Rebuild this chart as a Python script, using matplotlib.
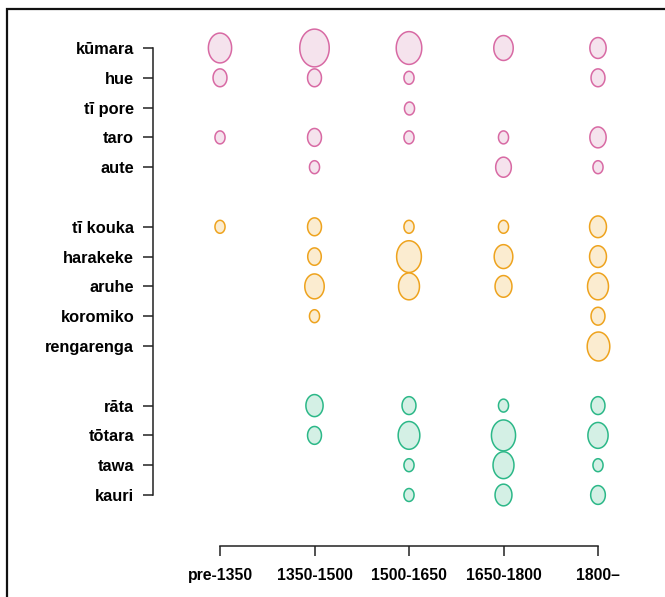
import numpy as np
import matplotlib
matplotlib.use("Agg")
import matplotlib.pyplot as plt
from matplotlib.path import Path
from matplotlib.patches import Rectangle

# ===== data =====
periods = ["pre-1350", "1350-1500", "1500-1650", "1650-1800", "1800–"]

food_plants = ["kūmara", "hue", "tī pore", "taro", "aute"]
food_vals = [
    [5.3, 8.5, 6.4, 3.7, 2.6],
    [1.9, 1.9, 1.0, 0, 1.9],
    [0, 0, 1.0, 0, 0],
    [1.0, 1.9, 1.0, 1.0, 2.6],
    [0, 1.0, 0, 2.4, 1.0],
]

fibre_plants = ["tī kouka", "harakeke", "aruhe", "koromiko", "rengarenga"]
fibre_vals = [
    [1.0, 1.9, 1.0, 1.0, 2.8],
    [0, 1.8, 6.0, 3.4, 2.8],
    [0, 3.7, 4.3, 2.8, 4.3],
    [0, 1.0, 0, 0, 1.9],
    [0, 0, 0, 0, 5.0],
]

tree_plants = ["rāta", "tōtara", "tawa", "kauri"]
tree_vals = [
    [0, 2.9, 1.9, 1.0, 1.9],
    [0, 1.9, 4.6, 5.7, 4.0],
    [0, 0, 1.0, 4.3, 1.0],
    [0, 0, 1.0, 2.8, 2.1],
]

groups = [
    (food_plants, food_vals, "#d86aa4", "#f5e3ed"),
    (fibre_plants, fibre_vals, "#eea31e", "#fbecd0"),
    (tree_plants, tree_vals, "#2cb888", "#d4f0e5"),
]

plt.rcParams["font.family"] = ["Liberation Sans", "DejaVu Sans"]
plt.rcParams["font.weight"] = "bold"

# slightly tall ellipse marker
t = np.linspace(0, 2 * np.pi, 80)
oval = Path(np.column_stack([0.78 * np.cos(t), np.sin(t)]), closed=True)

fig = plt.figure(figsize=(6.65, 5.97), dpi=100)
ax = fig.add_axes([0, 0, 1, 1])
ax.patch.set_visible(False)

ypos = []
ylabels = []
row = 0
for names, vals, edge, fill in groups:
    for name, v in zip(names, vals):
        v = np.array(v, dtype=float)
        x = np.arange(len(periods))
        keep = v > 0
        ax.scatter(x[keep], np.full(keep.sum(), row), s=87 * v[keep],
                   marker=oval, facecolor=fill, edgecolor=edge,
                   linewidth=1.1, zorder=3)
        ypos.append(row)
        ylabels.append(name)
        row += 1
    row += 1

ax.set_xlim(-220 / 94.5, (665 - 220) / 94.5)
ax.set_ylim((597 - 48) / 29.8, -48 / 29.8)

for s in ["top", "right"]:
    ax.spines[s].set_visible(False)
ax.spines["left"].set_position(("data", -0.709))
ax.spines["left"].set_bounds(0, ypos[-1])
ax.spines["bottom"].set_position(("data", (546 - 48) / 29.8))
ax.spines["bottom"].set_bounds(0, len(periods) - 1)
for s in ["left", "bottom"]:
    ax.spines[s].set_linewidth(1.1)
    ax.spines[s].set_color("#222222")

ax.set_yticks(ypos)
ax.set_yticklabels(ylabels, fontsize=11.8)
ax.set_xticks(range(len(periods)))
ax.set_xticklabels(periods, fontsize=11.3)
ax.tick_params(axis="both", length=7, width=1.1, color="#222222")
ax.tick_params(axis="y", pad=6.5)
ax.tick_params(axis="x", pad=8.5)

# outer frame
fig.add_artist(Rectangle((7 / 665, -0.1), 1.1, 1 - 9 / 597 + 0.1,
                         transform=fig.transFigure, fill=False,
                         linewidth=1.6, edgecolor="#111111"))

fig.savefig("out.png", dpi=100)
